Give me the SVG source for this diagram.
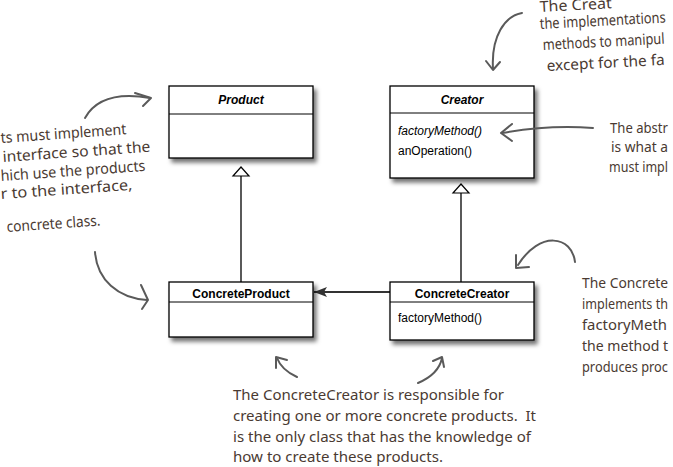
<svg xmlns="http://www.w3.org/2000/svg" width="673" height="467" viewBox="0 0 673 467">
<style>
.box{fill:#fff;stroke:#000;stroke-width:1.3}
.div{stroke:#000;stroke-width:1}
.cls{font-family:"Liberation Sans",Arial,sans-serif;font-size:12px;fill:#000}
.name{font-weight:bold;text-anchor:middle}
.note{font-family:"Noto Sans","DejaVu Sans",sans-serif;font-size:15px;fill:#4a3a32}
.curve{fill:none;stroke:#5a5a5a;stroke-width:2;stroke-linecap:round;stroke-linejoin:round}
.line{fill:none;stroke:#000;stroke-width:1.3}
</style>
<defs>
<filter id="sh" x="-10%" y="-10%" width="130%" height="140%">
<feDropShadow dx="3" dy="4" stdDeviation="2" flood-color="#000" flood-opacity="0.55"/>
</filter>
<marker id="filled" markerWidth="14" markerHeight="10" refX="13" refY="5" orient="auto" markerUnits="userSpaceOnUse">
<path d="M0,0 L13,5 L0,10 L3,5 Z" fill="#333"/>
</marker>
</defs>

<g id="connectors">
<path class="line" d="M241,176 V282"/>
<path d="M233,176 L241,167 L249,176 Z" fill="#fff" stroke="#000" stroke-width="1.2"/>
<path class="line" d="M461,193 V282"/>
<path d="M453,193 L461,184 L469,193 Z" fill="#fff" stroke="#000" stroke-width="1.2"/>
<path d="M390,292 H314" stroke="#333" stroke-width="2" fill="none" marker-end="url(#filled)"/>
</g>

<g id="Product">
<rect class="box" x="169" y="86" width="144" height="72" filter="url(#sh)"/>
<line class="div" x1="169" y1="114" x2="313" y2="114"/>
<text class="cls name" x="241" y="104" font-style="italic">Product</text>
</g>

<g id="Creator">
<rect class="box" x="390" y="86" width="144" height="92" filter="url(#sh)"/>
<line class="div" x1="390" y1="113" x2="534" y2="113"/>
<text class="cls name" x="462" y="104" font-style="italic">Creator</text>
<text class="cls" x="398" y="135" font-style="italic">factoryMethod()</text>
<text class="cls" x="398" y="155">anOperation()</text>
</g>

<g id="ConcreteProduct">
<rect class="box" x="169" y="282" width="144" height="55" filter="url(#sh)"/>
<line class="div" x1="169" y1="302" x2="313" y2="302"/>
<text class="cls name" x="241" y="298">ConcreteProduct</text>
</g>

<g id="ConcreteCreator">
<rect class="box" x="390" y="282" width="144" height="58" filter="url(#sh)"/>
<line class="div" x1="390" y1="302" x2="534" y2="302"/>
<text class="cls name" x="462" y="298">ConcreteCreator</text>
<text class="cls" x="398" y="322">factoryMethod()</text>
</g>

<g id="note-top-right">
<text class="note" x="540" y="12" textLength="72" lengthAdjust="spacingAndGlyphs" transform="rotate(-3 540 12)">The Creat</text>
<text class="note" x="540" y="29" textLength="126" lengthAdjust="spacingAndGlyphs" transform="rotate(-3 540 29)">the implementations</text>
<text class="note" x="543" y="50" textLength="122" lengthAdjust="spacingAndGlyphs" transform="rotate(-3 543 50)">methods to manipul</text>
<text class="note" x="547" y="71" textLength="118" lengthAdjust="spacingAndGlyphs" transform="rotate(-3 547 71)">except for the fa</text>
<path class="curve" d="M522,13 C505,16 491,36 493,69"/>
<path class="curve" d="M486,61 L493,70 L500,62"/>
</g>

<g id="note-left">
<text class="note" x="1" y="143" textLength="126" lengthAdjust="spacingAndGlyphs" transform="rotate(-4 1 143)">ts must implement</text>
<text class="note" x="3" y="162" textLength="148" lengthAdjust="spacingAndGlyphs" transform="rotate(-4 3 162)">interface so that the</text>
<text class="note" x="1" y="181" textLength="145" lengthAdjust="spacingAndGlyphs" transform="rotate(-4 1 181)">hich use the products</text>
<text class="note" x="1" y="199" textLength="132" lengthAdjust="spacingAndGlyphs" transform="rotate(-4 1 199)">r to the interface,</text>
<text class="note" x="7" y="232" textLength="94" lengthAdjust="spacingAndGlyphs" transform="rotate(-4 7 232)">concrete class.</text>
<path class="curve" d="M85,118 C95,100 115,92 150,98"/>
<path class="curve" d="M135,93 L151,98 L143,106"/>
<path class="curve" d="M95,252 C97,280 118,298 147,300"/>
<path class="curve" d="M141,285 L148,300 L142,309"/>
</g>

<g id="note-right-middle">
<text class="note" x="610" y="133" textLength="58" lengthAdjust="spacingAndGlyphs">The abstr</text>
<text class="note" x="611" y="152" textLength="57" lengthAdjust="spacingAndGlyphs">is what a</text>
<text class="note" x="609" y="172" textLength="59" lengthAdjust="spacingAndGlyphs">must impl</text>
<path class="curve" d="M593,128 C565,126 530,128 502,133"/>
<path class="curve" d="M512,124 L501,133 L512,141"/>
</g>

<g id="note-right-lower">
<text class="note" x="582" y="288" textLength="86" lengthAdjust="spacingAndGlyphs">The Concrete</text>
<text class="note" x="582" y="309" textLength="86" lengthAdjust="spacingAndGlyphs">implements th</text>
<text class="note" x="582" y="330" textLength="85" lengthAdjust="spacingAndGlyphs">factoryMeth</text>
<text class="note" x="582" y="351" textLength="86" lengthAdjust="spacingAndGlyphs">the method t</text>
<text class="note" x="582" y="372" textLength="86" lengthAdjust="spacingAndGlyphs">produces proc</text>
<path class="curve" d="M575,262 C572,236 540,230 518,265"/>
<path class="curve" d="M516,255 L516,268 L529,267"/>
</g>

<g id="note-bottom">
<text class="note" x="233" y="400" textLength="271" lengthAdjust="spacingAndGlyphs">The ConcreteCreator is responsible for</text>
<text class="note" x="233" y="421" textLength="303" lengthAdjust="spacingAndGlyphs" xml:space="preserve">creating one or more concrete products.  It</text>
<text class="note" x="233" y="442" textLength="298" lengthAdjust="spacingAndGlyphs">is the only class that has the knowledge of</text>
<text class="note" x="233" y="462" textLength="210" lengthAdjust="spacingAndGlyphs">how to create these products.</text>
<path class="curve" d="M297,377 C286,372 280,366 277,358"/>
<path class="curve" d="M276,368 L276,357 L287,360"/>
<path class="curve" d="M418,383 C432,377 440,368 442,358"/>
<path class="curve" d="M433,361 L442,357 L444,367"/>
</g>
</svg>
